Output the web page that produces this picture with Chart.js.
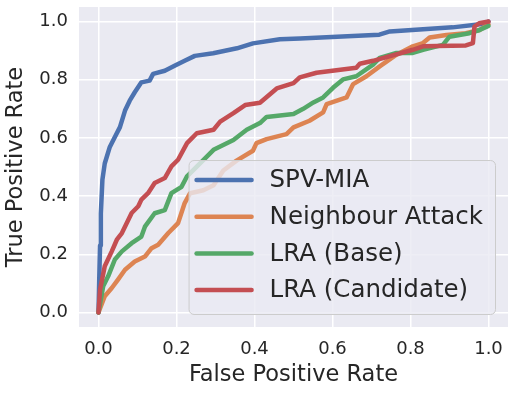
<!DOCTYPE html>
<html>
<head>
<meta charset="utf-8">
<script src="https://cdn.jsdelivr.net/npm/chart.js@4.4.1/dist/chart.umd.min.js"></script>
<style>
  html, body { margin: 0; padding: 0; background: #fff; }
  #wrap { width: 515px; height: 394px; }
</style>
</head>
<body>
<div id="wrap"><canvas id="roc" width="515" height="394"></canvas></div>
<script>
/* ROC curves: false positive rate vs true positive rate */
const seriesLabels = ['SPV-MIA', 'Neighbour Attack', 'LRA (Base)', 'LRA (Candidate)'];
const seriesColors = ['#4C72B0', '#DD8452', '#55A868', '#C44E52'];
const axisTicks = [0, 0.2, 0.4, 0.6, 0.8, 1.0];

const spvFpr = [0, 0.002, 0.004, 0.006, 0.01, 0.016, 0.029, 0.042, 0.055, 0.068, 0.08, 0.093, 0.11, 0.131, 0.14, 0.17, 0.195, 0.221, 0.247, 0.294, 0.355, 0.396, 0.465, 0.517, 0.72, 0.747, 0.908, 0.995, 1.0];
const spvTpr = [0, 0.12, 0.23, 0.34, 0.456, 0.512, 0.569, 0.603, 0.637, 0.694, 0.728, 0.757, 0.791, 0.797, 0.82, 0.831, 0.848, 0.865, 0.882, 0.891, 0.908, 0.925, 0.939, 0.942, 0.955, 0.966, 0.98, 0.993, 1.0];

const nbrFpr = [0, 0.016, 0.034, 0.05, 0.068, 0.093, 0.119, 0.136, 0.153, 0.179, 0.204, 0.221, 0.235, 0.269, 0.295, 0.32, 0.354, 0.396, 0.405, 0.431, 0.482, 0.5, 0.541, 0.576, 0.585, 0.636, 0.653, 0.687, 0.721, 0.764, 0.806, 0.832, 0.849, 0.892, 0.942, 0.977, 1.0];
const nbrTpr = [0, 0.056, 0.084, 0.113, 0.147, 0.175, 0.192, 0.221, 0.233, 0.273, 0.307, 0.376, 0.41, 0.42, 0.437, 0.488, 0.522, 0.556, 0.582, 0.596, 0.613, 0.636, 0.659, 0.688, 0.716, 0.739, 0.785, 0.812, 0.846, 0.886, 0.915, 0.926, 0.945, 0.954, 0.96, 0.971, 0.99];

const baseFpr = [0, 0.012, 0.025, 0.042, 0.06, 0.085, 0.11, 0.119, 0.144, 0.17, 0.187, 0.213, 0.227, 0.295, 0.346, 0.38, 0.414, 0.431, 0.5, 0.525, 0.551, 0.576, 0.602, 0.627, 0.661, 0.704, 0.721, 0.764, 0.806, 0.832, 0.883, 0.9, 0.951, 0.977, 1.0];
const baseTpr = [0, 0.09, 0.125, 0.182, 0.21, 0.238, 0.261, 0.295, 0.341, 0.352, 0.41, 0.432, 0.468, 0.559, 0.593, 0.628, 0.651, 0.672, 0.682, 0.70, 0.722, 0.739, 0.773, 0.801, 0.812, 0.852, 0.875, 0.892, 0.892, 0.903, 0.92, 0.948, 0.96, 0.971, 0.985];

const candFpr = [0, 0.004, 0.016, 0.034, 0.047, 0.06, 0.085, 0.102, 0.11, 0.127, 0.144, 0.17, 0.187, 0.204, 0.227, 0.252, 0.295, 0.312, 0.346, 0.376, 0.414, 0.457, 0.5, 0.516, 0.559, 0.661, 0.67, 0.704, 0.806, 0.832, 0.942, 0.96, 0.964, 0.976, 1.0];
const candTpr = [0, 0.079, 0.159, 0.21, 0.25, 0.273, 0.342, 0.365, 0.388, 0.41, 0.445, 0.462, 0.502, 0.525, 0.582, 0.616, 0.628, 0.656, 0.685, 0.713, 0.721, 0.77, 0.788, 0.808, 0.824, 0.841, 0.855, 0.865, 0.903, 0.915, 0.918, 0.926, 0.983, 0.994, 1.0];

const TEXT = '#262626';
const FONT = "'DejaVu Sans', sans-serif";

const pairs = [[spvFpr, spvTpr], [nbrFpr, nbrTpr], [baseFpr, baseTpr], [candFpr, candTpr]];
const datasets = pairs.map(([xs, ys], i) => ({
  label: seriesLabels[i],
  data: xs.map((x, j) => ({ x, y: ys[j] })),
  borderColor: seriesColors[i],
  backgroundColor: seriesColors[i],
  borderWidth: 4.5,
  borderJoinStyle: 'round',
  borderCapStyle: 'round',
  pointRadius: 0,
  tension: 0,
  order: pairs.length - 1 - i,   // later series on top, like matplotlib
}));

// grey plot background (seaborn darkgrid)
const plotBg = {
  id: 'plotBg',
  beforeDraw(chart) {
    const { ctx, chartArea: a } = chart;
    ctx.save();
    ctx.fillStyle = '#EAEAF2';
    ctx.fillRect(a.left, a.top, a.right - a.left, a.bottom - a.top);
    ctx.restore();
  }
};

// legend inside the plot, lower right
const innerLegend = {
  id: 'innerLegend',
  afterDatasetsDraw(chart) {
    const { ctx, chartArea: a } = chart;
    const ds = chart.data.datasets;
    ctx.save();
    ctx.font = `24.5px ${FONT}`;
    const textW = Math.max(...ds.map(d => ctx.measureText(d.label).width));
    const rowH = 36.7;
    const w = 8 + 55 + 18 + textW + 12;
    const h = 154;
    const right = a.right - 13, bottom = a.bottom - 13;
    const left = right - w, top = bottom - h;

    ctx.beginPath();
    ctx.roundRect(left + 0.5, top + 0.5, w, h, 5);
    ctx.fillStyle = 'rgba(234,234,242,0.8)';
    ctx.fill();
    ctx.strokeStyle = '#CCCCCC';
    ctx.lineWidth = 1;
    ctx.stroke();

    ds.forEach((d, i) => {
      const cy = top + 20 + i * rowH;
      ctx.beginPath();
      ctx.moveTo(left + 8, cy);
      ctx.lineTo(left + 63, cy);
      ctx.strokeStyle = d.borderColor;
      ctx.lineWidth = 4.5;
      ctx.lineCap = 'round';
      ctx.stroke();
      ctx.fillStyle = TEXT;
      ctx.textBaseline = 'middle';
      ctx.textAlign = 'left';
      ctx.fillText(d.label, left + 81, cy + 1);
    });
    ctx.restore();
  }
};

const fixTicks = scale => { scale.ticks = axisTicks.map(v => ({ value: v })); };

new Chart(document.getElementById('roc'), {
  type: 'line',
  data: { datasets },
  plugins: [plotBg, innerLegend],
  options: {
    responsive: false,
    animation: false,
    layout: { padding: { top: 7, right: 7, left: 0, bottom: 0 } },
    plugins: { legend: { display: false }, tooltip: { enabled: false } },
    scales: {
      x: {
        type: 'linear',
        min: -0.05, max: 1.05,
        afterBuildTicks: fixTicks,
        afterFit: s => { s.height = 67; s.paddingLeft = 0; s.paddingRight = 0; },
        border: { display: false },
        grid: { color: '#FFFFFF', lineWidth: 1.5, drawTicks: false },
        ticks: { color: TEXT, padding: 12, font: { family: FONT, size: 18 }, callback: v => v.toFixed(1) },
        title: { display: true, text: 'False Positive Rate', color: TEXT, padding: { top: 0, bottom: 5 }, font: { family: FONT, size: 22.5 } }
      },
      y: {
        type: 'linear',
        min: -0.05, max: 1.05,
        afterBuildTicks: fixTicks,
        afterFit: s => { s.width = 79; s.paddingTop = 0; s.paddingBottom = 0; },
        border: { display: false },
        grid: { color: '#FFFFFF', lineWidth: 1.5, drawTicks: false },
        ticks: { color: TEXT, padding: 11, font: { family: FONT, size: 18 }, callback: v => v.toFixed(1) },
        title: { display: true, text: 'True Positive Rate', color: TEXT, padding: { top: 3, bottom: 0 }, font: { family: FONT, size: 22.5 } }
      }
    }
  }
});
</script>
</body>
</html>
